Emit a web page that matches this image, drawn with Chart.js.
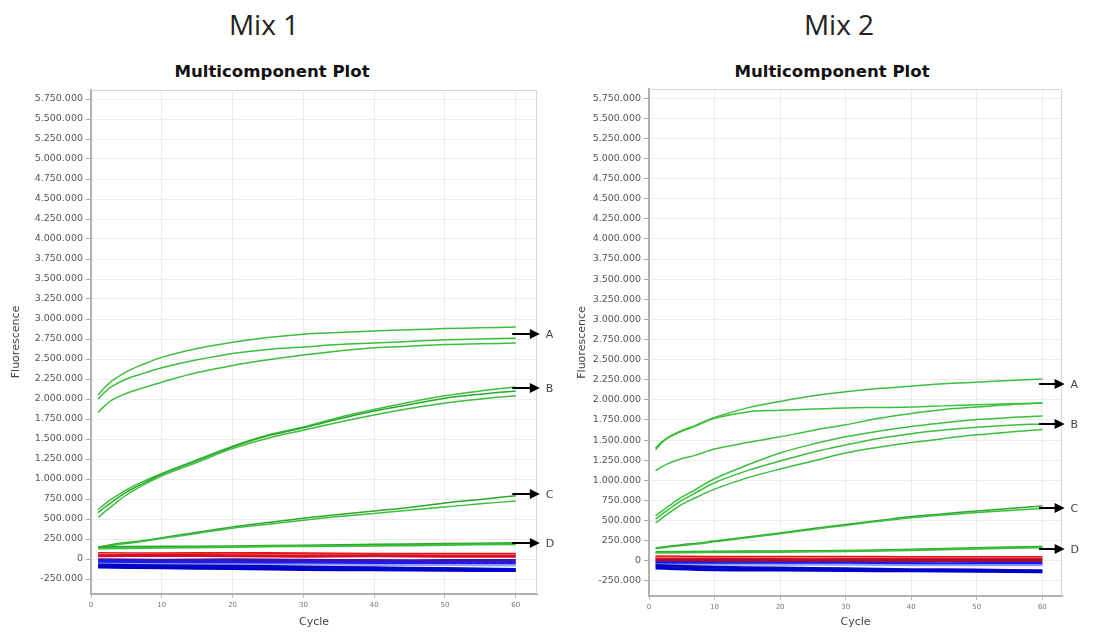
<!DOCTYPE html>
<html>
<head>
<meta charset="utf-8">
<script src="https://cdn.jsdelivr.net/npm/chart.js@4"></script>
<style>
  body { margin: 0; background: #fff; width: 1118px; height: 632px; position: relative; overflow: hidden; }
  .mix { position: absolute; width: 300px; text-align: center; font-family: "Open Sans", sans-serif; font-size: 28px; line-height: 28px; color: #222; }
  .ttl { position: absolute; width: 300px; text-align: center; font-family: "DejaVu Sans", sans-serif; font-weight: bold; font-size: 16.6px; line-height: 16px; color: #111; }
  canvas { position: absolute; top: 60px; }
</style>
</head>
<body>
<div class="mix" style="left:114px; top:10px;">Mix 1</div>
<div class="mix" style="left:689px; top:10px;">Mix 2</div>
<div class="ttl" style="left:122px; top:64px;">Multicomponent Plot</div>
<div class="ttl" style="left:682px; top:64px;">Multicomponent Plot</div>
<canvas id="mix1" width="560" height="572" style="left:0px;"></canvas>
<canvas id="mix2" width="558" height="572" style="left:560px;"></canvas>
<script>
const cycles = [1, 2, 3, 5, 7, 10, 15, 20, 25, 30, 35, 40, 45, 50, 55, 60];
const flatCycles = [1, 10, 20, 30, 40, 50, 60];

const yTicks = [-250000, 0, 250000, 500000, 750000, 1000000, 1250000, 1500000, 1750000, 2000000,
  2250000, 2500000, 2750000, 3000000, 3250000, 3500000, 3750000, 4000000, 4250000, 4500000,
  4750000, 5000000, 5250000, 5500000, 5750000];
const xTicks = [0, 10, 20, 30, 40, 50, 60];
const arrowLabels = ['A', 'B', 'C', 'D'];

// Mix 1 - green curves
const mix1A1 = [2050000, 2150000, 2230000, 2340000, 2420000, 2520000, 2630000, 2710000, 2770000, 2810000, 2830000, 2850000, 2865000, 2880000, 2890000, 2900000];
const mix1A2 = [2000000, 2090000, 2160000, 2250000, 2310000, 2390000, 2490000, 2570000, 2620000, 2650000, 2680000, 2700000, 2720000, 2740000, 2750000, 2760000];
const mix1A3 = [1830000, 1920000, 1990000, 2070000, 2130000, 2210000, 2330000, 2420000, 2490000, 2550000, 2600000, 2640000, 2660000, 2680000, 2690000, 2700000];
const mix1B1 = [620000, 690000, 755000, 865000, 955000, 1070000, 1240000, 1410000, 1550000, 1650000, 1770000, 1870000, 1960000, 2040000, 2100000, 2150000];
const mix1B2 = [580000, 650000, 715000, 835000, 930000, 1060000, 1230000, 1400000, 1540000, 1640000, 1750000, 1850000, 1930000, 2010000, 2060000, 2100000];
const mix1B3 = [520000, 595000, 665000, 800000, 905000, 1040000, 1210000, 1380000, 1510000, 1610000, 1710000, 1800000, 1880000, 1950000, 2000000, 2040000];
const mix1C1 = [150000, 165000, 180000, 205000, 225000, 265000, 335000, 400000, 455000, 510000, 555000, 600000, 645000, 700000, 745000, 790000];
const mix1C2 = [140000, 155000, 170000, 195000, 215000, 255000, 320000, 385000, 435000, 485000, 530000, 570000, 610000, 650000, 690000, 725000];
// Mix 1 - flat curves
const mix1D1 = [150000, 155000, 160000, 170000, 180000, 190000, 200000];
const mix1D2 = [130000, 140000, 150000, 160000, 165000, 175000, 185000];
const mix1Red1 = [70000, 65000, 70000, 65000, 60000, 60000, 60000];
const mix1Red2 = [40000, 45000, 40000, 35000, 40000, 35000, 35000];
const mix1Pink = [55000, 50000, 50000, 45000, 45000, 45000, 45000];
const mix1Purple = [-10000, -15000, -10000, -15000, -20000, -20000, -20000];
const mix1Blue1 = [-30000, -40000, -40000, -45000, -45000, -50000, -50000];
const mix1LightBlue = [-60000, -65000, -70000, -70000, -75000, -75000, -80000];
const mix1Blue2 = [-75000, -85000, -90000, -100000, -110000, -120000, -130000];
const mix1Blue3 = [-100000, -110000, -120000, -130000, -135000, -140000, -145000];
const mix1Arrows = [2810000, 2140000, 810000, 200000];

// Mix 2 - green curves
const mix2A1 = [1400000, 1480000, 1540000, 1620000, 1680000, 1780000, 1900000, 1980000, 2050000, 2100000, 2140000, 2170000, 2200000, 2220000, 2240000, 2260000];
const mix2A2 = [1380000, 1470000, 1530000, 1610000, 1670000, 1770000, 1850000, 1870000, 1885000, 1900000, 1905000, 1910000, 1925000, 1940000, 1950000, 1960000];
const mix2A3 = [1120000, 1170000, 1210000, 1270000, 1310000, 1390000, 1470000, 1540000, 1620000, 1690000, 1770000, 1830000, 1880000, 1910000, 1940000, 1960000];
const mix2B1 = [560000, 620000, 680000, 790000, 880000, 1020000, 1190000, 1340000, 1450000, 1540000, 1610000, 1670000, 1715000, 1755000, 1780000, 1800000];
const mix2B2 = [520000, 580000, 640000, 750000, 840000, 970000, 1120000, 1240000, 1350000, 1440000, 1520000, 1580000, 1625000, 1660000, 1685000, 1700000];
const mix2B3 = [470000, 530000, 590000, 700000, 780000, 890000, 1030000, 1140000, 1240000, 1340000, 1410000, 1470000, 1520000, 1565000, 1600000, 1630000];
const mix2C1 = [160000, 170000, 180000, 200000, 215000, 245000, 295000, 345000, 400000, 450000, 500000, 550000, 585000, 620000, 650000, 680000];
const mix2C2 = [150000, 160000, 170000, 190000, 205000, 235000, 285000, 335000, 390000, 440000, 490000, 535000, 570000, 600000, 625000, 650000];
// Mix 2 - flat curves
const mix2D1 = [110000, 115000, 120000, 125000, 140000, 160000, 175000];
const mix2D2 = [100000, 105000, 110000, 120000, 130000, 150000, 165000];
const mix2Red1 = [50000, 45000, 45000, 45000, 40000, 40000, 40000];
const mix2Red2 = [20000, 20000, 15000, 15000, 20000, 20000, 20000];
const mix2Pink = [35000, 30000, 30000, 30000, 30000, 30000, 30000];
const mix2DarkRed = [0, 5000, 0, 0, 0, 0, 0];
const mix2Blue1 = [-25000, -30000, -30000, -30000, -35000, -35000, -35000];
const mix2LightBlue = [-45000, -50000, -50000, -50000, -55000, -55000, -55000];
const mix2Blue2 = [-60000, -80000, -90000, -100000, -110000, -115000, -125000];
const mix2Blue3 = [-90000, -110000, -115000, -120000, -125000, -130000, -135000];
const mix2Arrows = [2200000, 1700000, 660000, 150000];

const green = '#3cbf3c';

function line(xs, ys, color, width) {
  return {
    data: xs.map((x, i) => ({ x: x, y: ys[i] })),
    borderColor: color,
    borderWidth: width || 1.5,
    pointRadius: 0,
    tension: 0.35,
    fill: false
  };
}

function dotted(v) {
  return String(v).replace(/\B(?=(\d{3})+(?!\d))/g, '.');
}

// frame + arrows with letters
const arrowPlugin = {
  id: 'arrows',
  afterDatasetsDraw(chart, args, opts) {
    const ctx = chart.ctx;
    const a = chart.chartArea;
    const x = chart.scales.x, y = chart.scales.y;
    ctx.save();
    ctx.strokeStyle = '#d6d6d6';
    ctx.lineWidth = 1;
    ctx.beginPath();
    ctx.moveTo(a.left, a.top + 0.5);
    ctx.lineTo(a.right - 0.5, a.top + 0.5);
    ctx.lineTo(a.right - 0.5, a.bottom);
    ctx.stroke();

    opts.values.forEach((v, i) => {
      const py = Math.round(y.getPixelForValue(v));
      const x0 = x.getPixelForValue(opts.from);
      const x1 = x.getPixelForValue(opts.to);
      ctx.strokeStyle = '#000';
      ctx.fillStyle = '#000';
      ctx.lineWidth = 2;
      ctx.beginPath();
      ctx.moveTo(x0, py);
      ctx.lineTo(x1 - 8, py);
      ctx.stroke();
      ctx.beginPath();
      ctx.moveTo(x1, py);
      ctx.lineTo(x1 - 10, py - 5);
      ctx.lineTo(x1 - 10, py + 5);
      ctx.closePath();
      ctx.fill();
      ctx.fillStyle = '#444';
      ctx.font = '11px "DejaVu Sans"';
      ctx.textBaseline = 'middle';
      ctx.fillText(arrowLabels[i], x1 + 6, py + 1);
    });
    ctx.restore();
  }
};

function makeChart(canvas, datasets, arrows, box) {
  return new Chart(canvas, {
    type: 'line',
    data: { datasets: datasets },
    plugins: [arrowPlugin],
    options: {
      responsive: false,
      animation: false,
      layout: { padding: { top: box.top, right: box.right, left: 0, bottom: 0 } },
      plugins: {
        legend: { display: false },
        tooltip: { enabled: false },
        arrows: { values: arrows, from: 59.5, to: 63.4 }
      },
      scales: {
        x: {
          type: 'linear',
          min: 0,
          max: 63,
          afterBuildTicks: (s) => { s.ticks = xTicks.map(v => ({ value: v })); },
          afterFit: (s) => { s.height = box.xh; },
          grid: { color: '#ececec', tickColor: '#bbb', tickLength: 4 },
          border: { color: '#b0b0b0', width: 2 },
          ticks: { color: '#777', font: { family: 'DejaVu Sans', size: 7 }, padding: 3, maxRotation: 0 },
          title: { display: true, text: 'Cycle', color: '#444', font: { family: 'DejaVu Sans', size: 11 }, padding: { top: 0, bottom: 3 } }
        },
        y: {
          min: -437500,
          max: 5862500,
          afterBuildTicks: (s) => { s.ticks = yTicks.map(v => ({ value: v })); },
          afterFit: (s) => { s.width = box.yw; },
          grid: { color: '#ececec', tickColor: '#aaa', tickLength: 5 },
          border: { color: '#b0b0b0', width: 2 },
          ticks: { color: '#555', font: { family: 'DejaVu Sans', size: 9.5 }, padding: 3, callback: (v) => dotted(v) },
          title: { display: true, text: 'Fluorescence', color: '#444', font: { family: 'DejaVu Sans', size: 11 }, padding: { top: box.tp, bottom: 0 } }
        }
      }
    }
  });
}

const mix1Sets = [
  line(flatCycles, mix1Blue3, '#0000d0', 3),
  line(flatCycles, mix1Blue2, '#0808b8', 3),
  line(flatCycles, mix1LightBlue, '#8fa0ff', 2),
  line(flatCycles, mix1Blue1, '#1c1cf0', 3),
  line(flatCycles, mix1Purple, '#4a10a0', 3),
  line(flatCycles, mix1Red2, '#d01028', 3),
  line(flatCycles, mix1Pink, '#f58888', 2.5),
  line(flatCycles, mix1Red1, '#f01010', 3),
  line(flatCycles, mix1D2, green, 2),
  line(flatCycles, mix1D1, '#2aa82a', 2),
  line(cycles, mix1C2, green),
  line(cycles, mix1C1, '#2ea52e'),
  line(cycles, mix1B3, green),
  line(cycles, mix1B2, '#2ea52e'),
  line(cycles, mix1B1, green),
  line(cycles, mix1A3, green),
  line(cycles, mix1A2, green),
  line(cycles, mix1A1, green)
];

const mix2Sets = [
  line(flatCycles, mix2Blue3, '#0000d0', 3),
  line(flatCycles, mix2Blue2, '#0808b8', 3),
  line(flatCycles, mix2LightBlue, '#8fa0ff', 2),
  line(flatCycles, mix2Blue1, '#1c1cf0', 3),
  line(flatCycles, mix2DarkRed, '#a01030', 3),
  line(flatCycles, mix2Red2, '#d01028', 3),
  line(flatCycles, mix2Pink, '#f58888', 2.5),
  line(flatCycles, mix2Red1, '#f01010', 3),
  line(flatCycles, mix2D2, green, 2),
  line(flatCycles, mix2D1, '#2aa82a', 2),
  line(cycles, mix2C2, green),
  line(cycles, mix2C1, '#2ea52e'),
  line(cycles, mix2B3, green),
  line(cycles, mix2B2, green),
  line(cycles, mix2B1, green),
  line(cycles, mix2A3, green),
  line(cycles, mix2A2, green),
  line(cycles, mix2A1, green)
];

let mix1Chart = makeChart(document.getElementById('mix1'), mix1Sets, mix1Arrows, { top: 30, right: 23, yw: 91, xh: 38, tp: 10 });
let mix2Chart = makeChart(document.getElementById('mix2'), mix2Sets, mix2Arrows, { top: 29, right: 56, yw: 89, xh: 36, tp: 16 });
</script>
</body>
</html>
